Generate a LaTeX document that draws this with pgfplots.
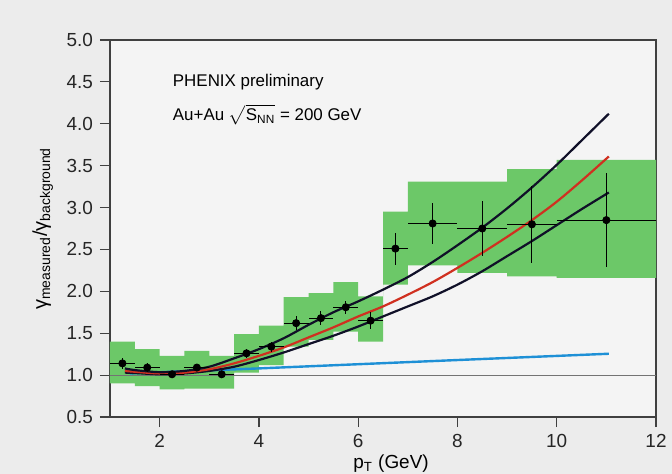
\documentclass[border=0pt]{standalone}
\usepackage{pgfplots}
\pgfplotsset{compat=1.18}
\usepackage{amsmath}
\usepackage{fontspec}
\setmainfont{Liberation Sans}

\definecolor{sysgreen}{RGB}{108,200,104}
\definecolor{theoblue}{RGB}{30,144,214}
\definecolor{theored}{RGB}{208,48,32}
\definecolor{theodark}{RGB}{16,16,40}
\definecolor{paper}{RGB}{236,236,236}

\begin{document}
\begin{tikzpicture}
\path[use as bounding box, fill=paper] (-55bp,-28.5bp) rectangle (281bp,208.5bp);
\begin{axis}[
  scale only axis, width=273bp, height=188.5bp,
  xmin=1, xmax=12, ymin=0.5, ymax=5,
  xtick={2,4,...,12}, ytick={0.5,1.0,...,5.0},
  tick align=outside, tick pos=left,
  major tick length=5bp,
  every tick/.style={line width=0.6bp, black!75},
  axis line style={line width=0.6bp, black!75},
  /pgf/number format/assume math mode=true,
  ticklabel style={font=\fontsize{9.5}{11}\selectfont, black!85},
  yticklabel style={/pgf/number format/.cd, fixed, fixed zerofill, precision=1},
  xlabel={p\textsubscript{T} (GeV)},
  ylabel={γ\textsubscript{measured}/γ\textsubscript{background}},
  xlabel style={font=\fontsize{9.5}{11}\selectfont, yshift=3bp, xshift=4bp},
  ylabel style={font=\fontsize{10}{12}\selectfont},
  axis background/.style={fill=paper!60!white},
]
% systematic uncertainty boxes (stepped band)
\addplot[fill=sysgreen, draw=none] coordinates {
  (1,1.40) (1.5,1.40) (1.5,1.31) (2,1.31) (2,1.23) (2.5,1.23) (2.5,1.29) (3,1.29)
  (3,1.23) (3.5,1.23) (3.5,1.49) (4,1.49) (4,1.59) (4.5,1.59) (4.5,1.93) (5,1.93)
  (5,1.98) (5.5,1.98) (5.5,2.11) (6,2.11) (6,1.94) (6.5,1.94) (6.5,2.95) (7,2.95)
  (7,3.31) (9,3.31) (9,3.46) (10,3.46) (10,3.57) (12,3.57)
  (12,2.16) (10,2.16) (10,2.18) (9,2.18) (9,2.22) (8,2.22) (8,2.31) (7,2.31)
  (7,2.08) (6.5,2.08) (6.5,1.40) (6,1.40) (6,1.52) (5.5,1.52) (5.5,1.42) (5,1.42)
  (5,1.34) (4.5,1.34) (4.5,1.12) (4,1.12) (4,1.03) (3.5,1.03) (3.5,0.84) (2.5,0.84)
  (2.5,0.83) (2,0.83) (2,0.87) (1.5,0.87) (1.5,0.90) (1,0.90)
} -- cycle;

% reference line at 1
\addplot[black!55, line width=0.6bp] coordinates {(1,1) (12,1)};

% blue model
\addplot[theoblue, line width=1.2bp] coordinates {
  (1.4,1.02) (4,1.08) (6,1.13) (8,1.18) (11.05,1.255)
};

% lower black curve
\addplot[theodark, line width=1.1bp, smooth] coordinates {
  (1.3,1.03) (1.5,1.025) (2,1.01) (2.5,1.02) (3,1.05) (3.5,1.10) (4,1.18)
  (4.5,1.27) (5,1.37) (5.5,1.47) (6,1.58) (6.5,1.70) (7,1.82) (7.5,1.94)
  (8,2.08) (8.5,2.24) (9,2.42) (9.5,2.60) (10,2.79) (10.5,2.98) (11.05,3.18)
};

% red curve
\addplot[theored, line width=1.1bp, smooth] coordinates {
  (1.3,1.05) (1.5,1.04) (2,1.02) (2.5,1.03) (3,1.07) (3.5,1.14) (4,1.23)
  (4.5,1.33) (5,1.45) (5.5,1.57) (6,1.70) (6.5,1.82) (7,1.96) (7.5,2.11)
  (8,2.28) (8.5,2.46) (9,2.65) (9.5,2.85) (10,3.07) (10.5,3.32) (11.05,3.61)
};

% upper black curve
\addplot[theodark, line width=1.1bp, smooth] coordinates {
  (1.3,1.08) (1.5,1.06) (2,1.035) (2.5,1.05) (3,1.10) (3.5,1.20) (4,1.31)
  (4.5,1.44) (5,1.60) (5.5,1.75) (6,1.88) (6.5,2.02) (7,2.17) (7.5,2.35)
  (8,2.55) (8.5,2.76) (9,2.99) (9.5,3.24) (10,3.51) (10.5,3.80) (11.05,4.12)
};

% measured points
\addplot[only marks, mark=*, mark size=1.8bp, black,
  error bars/.cd, x dir=both, x explicit, y dir=both, y explicit,
  error mark=none, error bar style={line width=0.5bp, black}]
  table[x=x, y=y, x error=ex, y error=ey] {
x     y     ex    ey
1.25  1.14  0.25  0.07
1.75  1.09  0.25  0.05
2.25  1.01  0.25  0.04
2.75  1.09  0.25  0.04
3.25  1.01  0.25  0.04
3.75  1.26  0.25  0.05
4.25  1.34  0.25  0.06
4.75  1.62  0.25  0.08
5.25  1.68  0.25  0.08
5.75  1.81  0.25  0.08
6.25  1.65  0.25  0.10
6.75  2.51  0.25  0.19
7.5   2.81  0.5   0.25
8.5   2.75  0.5   0.33
9.5   2.80  0.5   0.46
11.0  2.85  1.0   0.56
};

\node[anchor=base west, font=\fontsize{8.5}{10}\selectfont, inner sep=0pt]
  at (axis cs:2.26,4.44) {PHENIX preliminary};
\node[anchor=base west, font=\fontsize{8.5}{10}\selectfont, inner sep=0pt]
  at (axis cs:2.26,4.04) {Au+Au $\sqrt{\text{S}_\text{NN}}$ = 200 GeV};
\end{axis}
\end{tikzpicture}
\end{document}
